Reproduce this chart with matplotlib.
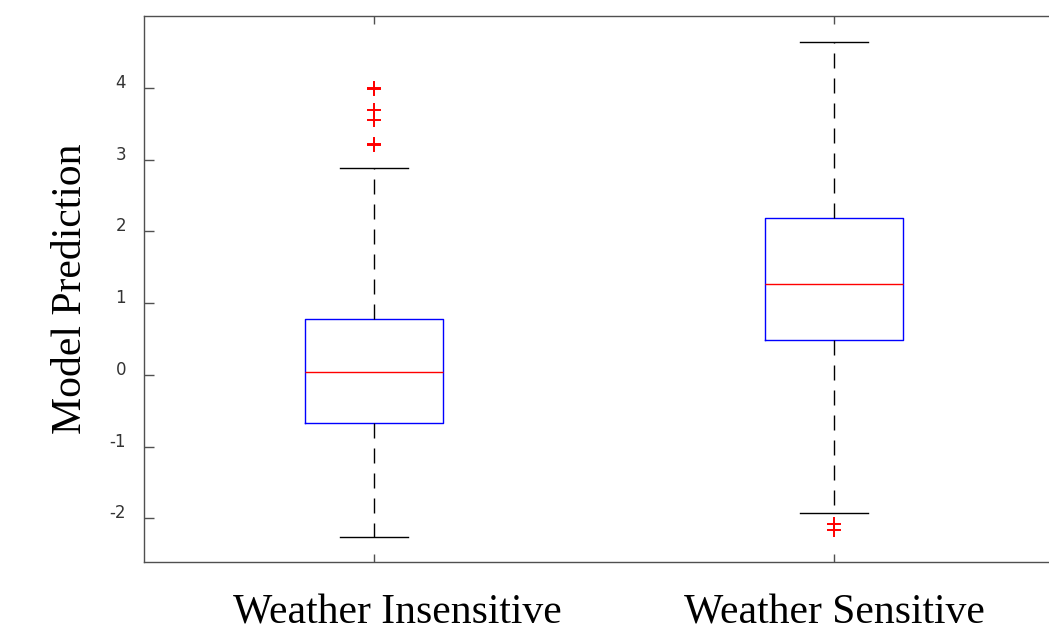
import numpy as np
import matplotlib
matplotlib.use("Agg")
import matplotlib.pyplot as plt
from matplotlib.transforms import ScaledTranslation

# values
labels = ["Weather Insensitive", "Weather Sensitive"]
medians = [0.04, 1.27]
q1s = [-0.67, 0.49]
q3s = [0.78, 2.19]
whisker_lo = [-2.26, -1.92]
whisker_hi = [2.89, 4.64]
outliers = [
    [4.00, 3.99, 3.69, 3.55, 3.22, 3.20],
    [-2.08, -2.16],
]

stats = []
for i in range(len(labels)):
    stats.append({
        "label": labels[i],
        "med": medians[i],
        "q1": q1s[i],
        "q3": q3s[i],
        "whislo": whisker_lo[i],
        "whishi": whisker_hi[i],
        "fliers": outliers[i],
    })

fig = plt.figure(figsize=(10.49, 6.34), dpi=100)
# right edge of the axes runs past the figure like in the original
ax = fig.add_axes([144 / 1049, 1 - 562 / 634, 920 / 1049, 546 / 634])

dash = (0, (10.8, 7.2))
ax.bxp(stats, positions=[1, 2], widths=0.3, showfliers=True,
       boxprops=dict(color="#0000ff", linewidth=1.0),
       medianprops=dict(color="#ff0000", linewidth=1.0),
       whiskerprops=dict(color="black", linewidth=1.0, linestyle=dash),
       capprops=dict(color="black", linewidth=1.0),
       capwidths=0.148,
       flierprops=dict(marker="+", markeredgecolor="#ff0000", markersize=10,
                       markeredgewidth=1.4, linestyle="none"))

ax.set_xlim(0.5, 2.5)
ax.set_ylim(-2.61, 5.005)
ax.set_yticks([-2, -1, 0, 1, 2, 3, 4])
ax.set_yticklabels(["-2", "-1", "0", "1", "2", "3", "4"])
ax.set_xticks([1, 2])
ax.set_xticklabels(labels, fontfamily="Liberation Serif", fontsize=30)

for s in ax.spines.values():
    s.set_color("#505050")
    s.set_linewidth(1.0)

ax.tick_params(axis="y", direction="in", length=7, width=1, color="#505050",
               labelsize=12, labelcolor="#333333", pad=13)
ax.tick_params(axis="x", direction="in", length=6, width=1, color="#505050",
               top=True, pad=23)
for t in ax.get_yticklabels():
    t.set_fontfamily("DejaVu Sans")
    t.set_verticalalignment("baseline")

# the first category label sits a little right of its tick in the original
first = ax.get_xticklabels()[0]
first.set_transform(first.get_transform() + ScaledTranslation(0.23, 0, fig.dpi_scale_trans))

ax.set_ylabel("Model Prediction", fontfamily="Liberation Serif", fontsize=30,
              labelpad=14)

fig.savefig("out.png", dpi=100)
